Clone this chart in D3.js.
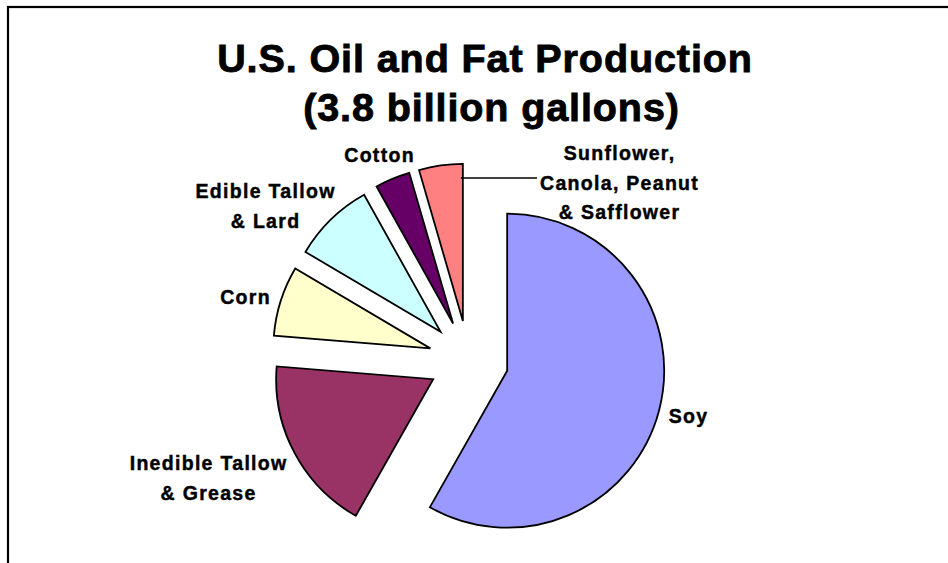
<!DOCTYPE html>
<html>
<head>
<meta charset="utf-8">
<script src="https://cdn.jsdelivr.net/npm/d3@7"></script>
<style>
  html, body { margin: 0; padding: 0; background: #fff; }
  svg { display: block; }
  text { font-family: "Liberation Sans", Arial, Helvetica, sans-serif; font-weight: bold; fill: #000; stroke: #000; }
</style>
</head>
<body>
<svg id="chart" width="948" height="563"></svg>
<script>
// Sources of U.S. oil and fat production, share of the 3.8 billion gallon total (%)
const categories = ["Soy", "Inedible Tallow & Grease", "Corn", "Edible Tallow & Lard", "Cotton", "Sunflower, Canola, Peanut & Safflower"];
const shares = [58.2, 18.1, 7.2, 8.4, 3.6, 4.5];
const colors = ["#9999FF", "#993366", "#FFFFCC", "#CCFFFF", "#660066", "#FF8080"];
const titleLines = ["U.S. Oil and Fat Production", "(3.8 billion gallons)"];

// Label text lines and their placement (center x, first baseline y)
const labelLines = [
  ["Soy"],
  ["Inedible Tallow", "& Grease"],
  ["Corn"],
  ["Edible Tallow", "& Lard"],
  ["Cotton"],
  ["Sunflower,", "Canola, Peanut", "& Safflower"]
];
const labelAnchors = [[688, 423], [208, 470], [245, 304], [265, 198], [379, 162], [619, 160]];

const svg = d3.select("#chart");
const W = 948, H = 563;

svg.append("rect").attr("width", W).attr("height", H).attr("fill", "#fff");

// Frame: only its top and left edges fall inside the view
svg.append("rect")
  .attr("x", 8).attr("y", 7).attr("width", 1200).attr("height", 1200)
  .attr("fill", "none").attr("stroke", "#000").attr("stroke-width", 2.2);

// Title
svg.append("g").selectAll("text").data(titleLines).join("text")
  .attr("x", (d, i) => i === 0 ? 485 : 491.5)
  .attr("y", (d, i) => 72 + i * 49)
  .attr("text-anchor", "middle")
  .attr("font-size", 39.5)
  .attr("letter-spacing", 0.9)
  .attr("stroke-width", 0.9)
  .text(d => d);

// Exploded pie
const cx = 468.5, cy = 360.5, R = 157, explode = 40;
const data = categories.map((c, i) => ({ name: c, value: shares[i], color: colors[i] }));
const pie = d3.pie().sort(null).value(d => d.value).startAngle(0).endAngle(2 * Math.PI);
const arc = d3.arc().innerRadius(0).outerRadius(R);
const arcs = pie(data);
const offset = d => {
  const m = (d.startAngle + d.endAngle) / 2;
  return [explode * Math.sin(m), -explode * Math.cos(m)];
};

svg.append("g").attr("transform", `translate(${cx},${cy})`)
  .selectAll("path.slice").data(arcs).join("path")
  .attr("class", "slice")
  .attr("transform", d => `translate(${offset(d)})`)
  .attr("d", arc)
  .attr("fill", d => d.data.color)
  .attr("stroke", "#000")
  .attr("stroke-width", 1.8);

// Leader line from the small sunflower/canola slice to its label
const small = arcs[arcs.length - 1];
const [sx] = offset(small);
svg.append("line")
  .attr("x1", cx + sx - 2).attr("y1", 178)
  .attr("x2", 537).attr("y2", 178)
  .attr("stroke", "#000").attr("stroke-width", 1.6);

// Category labels
const labels = svg.append("g");
labelLines.forEach((lines, i) => {
  const [lx, ly] = labelAnchors[i];
  labels.append("text")
    .attr("text-anchor", "middle")
    .attr("font-size", 19.5)
    .attr("letter-spacing", 1.3)
    .attr("stroke-width", 0.45)
    .selectAll("tspan").data(lines).join("tspan")
      .attr("x", lx + 0.6)
      .attr("y", (d, j) => ly + j * 29.5)
      .text(d => d);
});
</script>
</body>
</html>
